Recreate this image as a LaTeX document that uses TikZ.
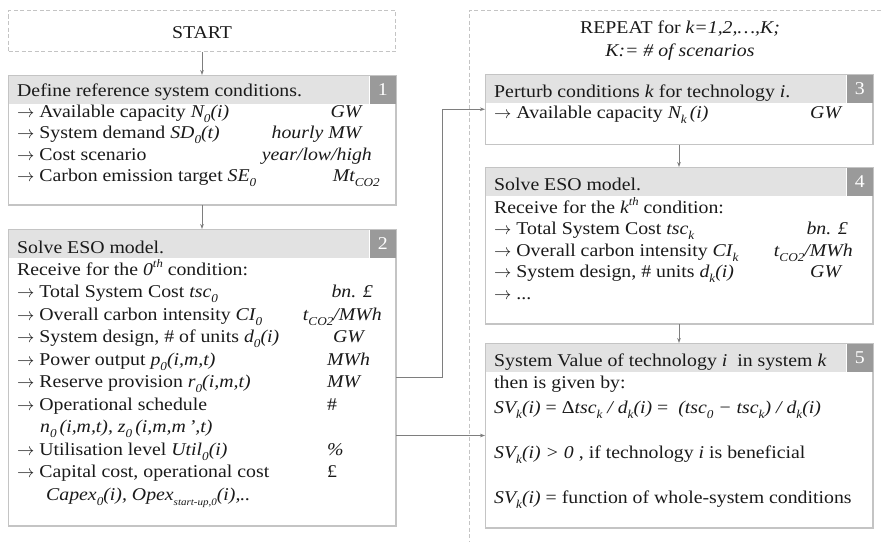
\documentclass[tikz,border=0pt]{standalone}
\usepackage{fontspec}
\setmainfont{Liberation Serif}[FakeStretch=1.1]
\usetikzlibrary{arrows.meta}

\definecolor{boxline}{HTML}{C4C4C4}
\definecolor{headfill}{HTML}{E2E2E2}
\definecolor{badgefill}{HTML}{9A9A9A}
\definecolor{connline}{HTML}{7E7E7E}
\definecolor{ink}{HTML}{1A1A1A}

\newcommand\mainfs{\fontsize{18}{21}\selectfont}
\newcommand\sbs[1]{\raisebox{-0.28em}{\fontsize{12}{12}\selectfont #1}}
\newcommand\sbsmall[1]{\raisebox{-0.3em}{\fontsize{10}{11}\selectfont #1}}
\newcommand\sps[1]{\raisebox{0.42em}{\fontsize{11.5}{12}\selectfont #1}}
\newcommand\ar{\(\rightarrow\)}

\tikzset{
  panel/.style={draw=boxline, line width=1pt, fill=white, inner sep=0pt,
    anchor=north west, minimum width=387pt},
  headbar/.style={fill=headfill, inner sep=0pt, anchor=north west,
    minimum width=361pt, minimum height=29pt},
  badge/.style={fill=badgefill, inner sep=0pt, anchor=north east,
    minimum width=26pt, minimum height=29pt, text=white, font=\mainfs},
  dashbox/.style={draw=boxline, line width=1pt, dashed, dash pattern=on 4pt off 2.5pt},
  line/.style={inner sep=0pt, text=ink, font=\mainfs, text height=12pt, text depth=3.5pt},
  txt/.style={line, anchor=base west},
  unitr/.style={line, anchor=base east},
  ctext/.style={line, anchor=base},
  conn/.style={draw=connline, line width=0.9pt,
    -{Stealth[length=5pt, width=3.6pt]}},
}

\begin{document}
\begin{tikzpicture}[x=1pt, y=-1pt]
\useasboundingbox (0,0) rectangle (881,541);

% start box
\node[dashbox, inner sep=0pt, anchor=north west, minimum width=387pt,
  minimum height=41pt] (start) at (8,10) {};
\node[ctext] (starttxt) at (202,38) {START};

% repeat container, open to the right and bottom
\draw[dashbox] (881,10) -- (469,10) -- (469,541);
\node[ctext] (rep1) at (680,33) {REPEAT for \textit{k=1,2,…,K;}};
\node[ctext] (rep2) at (680,56.5) {\textit{K:= \# of scenarios}};

% panels
\node[panel, minimum height=129pt] (b1) at (8,75) {};
\node[panel, minimum height=296pt] (b2) at (8,229) {};
\node[panel, minimum height=69.5pt] (b3) at (485,74) {};
\node[panel, minimum height=156pt] (b4) at (485,167) {};
\node[panel, minimum height=184pt] (b5) at (485,343) {};

\foreach \b/\n in {b1/1, b2/2, b3/3, b4/4, b5/5}{
  \node[headbar] (\b h) at (\b.north west) {};
  \node[badge] (\b n) at (\b.north east) {\n};
  \draw[boxline, line width=1pt] (\b.north west) rectangle (\b.south east);
}

% panel 1
\node[txt] (t11) at (17,96.5) {Define reference system conditions.};
\node[txt] (t12) at (17,117.5) {\ar\ Available capacity \textit{N\sbs{0}(i)}};
\node[txt] (t13) at (17,138.5) {\ar\ System demand \textit{SD\sbs{0}(t)}};
\node[txt] (t14) at (17,160) {\ar\ Cost scenario};
\node[txt] (t15) at (17,181.5) {\ar\ Carbon emission target \textit{SE\sbs{0}}};
\node[unitr] (u12) at (363,117.5) {\textit{GW}};
\node[unitr] (u13) at (363,138.5) {\textit{hourly MW}};
\node[unitr] (u14) at (372,160) {\textit{year/low/high}};
\node[unitr] (u15) at (380,181.5) {\textit{Mt\sbs{CO2}}};

% panel 2
\node[txt] (t21) at (17,253) {Solve ESO model.};
\node[txt] (t22) at (17,275) {Receive for the \textit{0\sps{th}} condition:};
\node[txt] (t23) at (17,297.5) {\ar\ Total System Cost \textit{tsc\sbs{0}}};
\node[txt] (t24) at (17,320) {\ar\ Overall carbon intensity \textit{CI\sbs{0}}};
\node[txt] (t25) at (17,342.5) {\ar\ System design, \# of units \textit{d\sbs{0}(i)}};
\node[txt] (t26) at (17,365) {\ar\ Power output \textit{p\sbs{0}(i,m,t)}};
\node[txt] (t27) at (17,387.5) {\ar\ Reserve provision \textit{r\sbs{0}(i,m,t)}};
\node[txt] (t28) at (17,410) {\ar\ Operational schedule};
\node[txt] (t29) at (40,432.5) {\textit{n\sbs{0}\,(i,m,t), z\sbs{0}\,(i,m,m\,’,t)}};
\node[txt] (t2a) at (17,455) {\ar\ Utilisation level \textit{Util\sbs{0}(i)}};
\node[txt] (t2b) at (17,477.5) {\ar\ Capital cost, operational cost};
\node[txt] (t2c) at (46,500) {\textit{Capex\sbs{0}(i), Opex\sbsmall{start-up,0}(i),..}};
\node[unitr] (u23) at (373,297.5) {\textit{bn. £}};
\node[unitr] (u24) at (382,320) {\textit{t\sbs{CO2}/MWh}};
\node[txt] (u25) at (333,342.5) {\textit{GW}};
\node[txt] (u26) at (327,365) {\textit{MWh}};
\node[txt] (u27) at (327,387.5) {\textit{MW}};
\node[txt] (u28) at (327,410) {\#};
\node[txt] (u2a) at (327,455) {\textit{\%}};
\node[txt] (u2b) at (327,477.5) {£};

% panel 3
\node[txt] (t31) at (494,97) {Perturb conditions \textit{k} for technology \textit{i}.};
\node[txt] (t32) at (494,118) {\ar\ Available capacity \textit{N\sbs{k}\,(i)}};
\node[txt] (u32) at (810,118) {\textit{GW}};

% panel 4
\node[txt] (t41) at (494,190) {Solve ESO model.};
\node[txt] (t42) at (494,213) {Receive for the \textit{k\sps{th}} condition:};
\node[txt] (t43) at (494,234.5) {\ar\ Total System Cost \textit{tsc\sbs{k}}};
\node[txt] (t44) at (494,256) {\ar\ Overall carbon intensity \textit{CI\sbs{k}}};
\node[txt] (t45) at (494,277.5) {\ar\ System design, \# units \textit{d\sbs{k}(i)}};
\node[txt] (t46) at (494,299) {\ar\ ...};
\node[unitr] (u43) at (848,234.5) {\textit{bn. £}};
\node[unitr] (u44) at (853,256) {\textit{t\sbs{CO2}/MWh}};
\node[txt] (u45) at (810,277.5) {\textit{GW}};

% panel 5
\node[txt] (t51) at (494,366) {System Value of technology \textit{i}\ \ in system \textit{k}};
\node[txt] (t52) at (494,388.5) {then is given by:};
\node[txt] (t53) at (494,413) {\textit{SV\sbs{k}(i)} = Δ\textit{tsc\sbs{k} / d\sbs{k}(i)} =\ \ \textit{(tsc\sbs{0} − tsc\sbs{k}) / d\sbs{k}(i)}};
\node[txt] (t54) at (494,458) {\textit{SV\sbs{k}(i) > 0} , if technology \textit{i} is beneficial};
\node[txt] (t55) at (494,503) {\textit{SV\sbs{k}(i)} = function of whole-system conditions};

% flow
\draw[conn] (start.south) -- (b1.north);
\draw[conn] (b1.south) -- (b2.north);
\draw[conn] (b3.south) -- (b4.north);
\draw[conn] (b4.south) -- (b5.north);
\draw[conn] (b2.east) -- ++(46,0) |- (b3.west);
\draw[conn] (b2.east |- b5.west) -- (b5.west);
\end{tikzpicture}
\end{document}
